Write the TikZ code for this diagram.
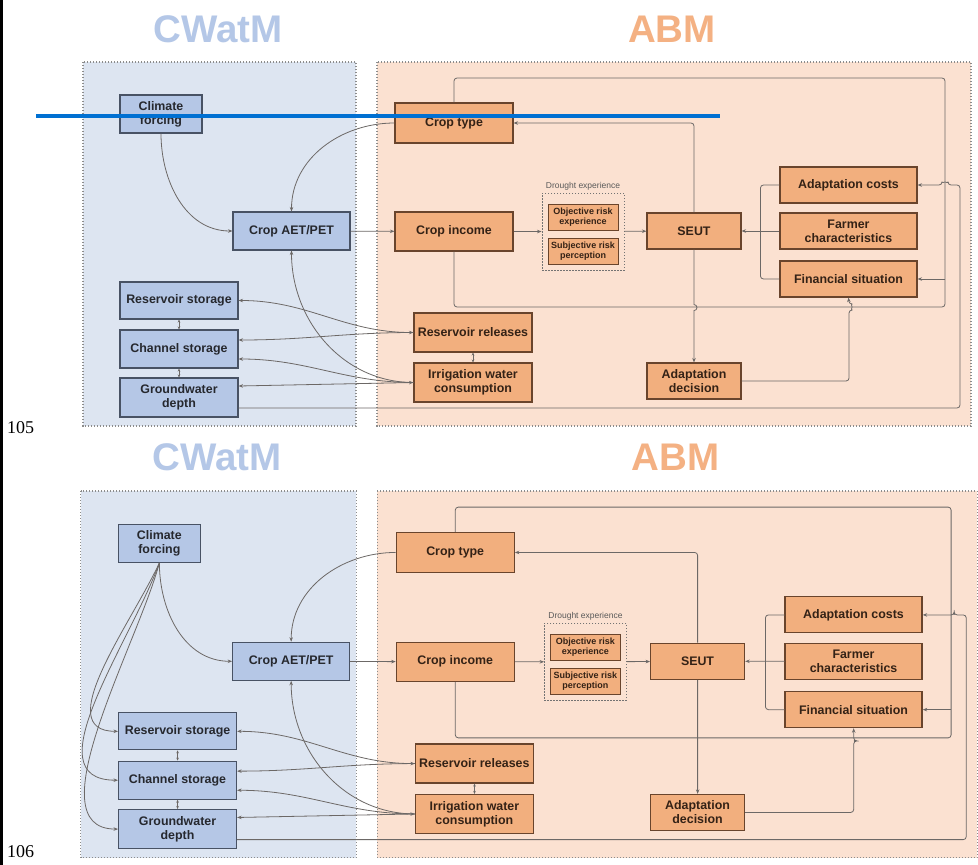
\documentclass[tikz,border=0pt]{standalone}
\usepackage{fontspec}
\setmainfont{Liberation Sans}
\newfontfamily\numfont{Liberation Serif}
\usetikzlibrary{arrows.meta}

\definecolor{cwfill}{RGB}{221,229,241}
\definecolor{cwboxfill}{RGB}{181,199,230}
\definecolor{cwtitle}{RGB}{180,199,231}
\definecolor{cwedge}{RGB}{72,82,100}
\definecolor{cwtext}{RGB}{38,40,46}
\definecolor{abfill}{RGB}{251,225,209}
\definecolor{abboxfill}{RGB}{242,175,126}
\definecolor{abtitle}{RGB}{244,177,131}
\definecolor{abedge}{RGB}{105,68,44}
\definecolor{abtext}{RGB}{52,34,22}
\definecolor{linkgray}{RGB}{108,104,102}
\definecolor{markblue}{RGB}{0,112,210}

\newcommand\cwboxfont{\fontsize{12.4}{14}\selectfont\bfseries}
\newcommand\riskfont{\fontsize{9}{10}\selectfont\bfseries}
\newcommand\dlfont{\fontsize{8.5}{9}\selectfont}

\tikzset{
  headline/.style={font=\fontsize{38.5}{40}\selectfont\bfseries,inner sep=0pt},
  panel/.style={draw=black!45,line width=1.1pt,dash pattern=on 1.2pt off 1.8pt},
  cwbox/.style={draw=cwedge,fill=cwboxfill,line width=1.1pt,text=cwtext,
    font=\cwboxfont,align=center,inner sep=1pt,minimum height=38pt},
  abbox/.style={draw=abedge,fill=abboxfill,line width=1.1pt,text=abtext,
    font=\cwboxfont,align=center,inner sep=1pt,minimum height=39pt},
  riskbox/.style={abbox,font=\riskfont,minimum width=70pt,minimum height=26pt,line width=0.9pt},
  groupbox/.style={draw=black!55,line width=0.9pt,dash pattern=on 1.5pt off 1.5pt},
  note/.style={font=\dlfont,text=black!65},
  link/.style={draw=linkgray,line width=0.8pt},
  arr/.style={link,->},
  darr/.style={link,<->},
  dbl/.style={link,{Stealth[length=3pt,width=2.6pt]}-{Stealth[length=3pt,width=2.6pt]}},
}

% one CWatM/ABM panel; #1 = radius of the line hops
\newcommand\drawpanel[1]{%
  \node[headline,text=cwtitle] (cwname) at (218,-29) {CWatM};
  \node[headline,text=abtitle] (abname) at (672,-29) {ABM};
  \draw[panel,fill=cwfill] (83,-62) rectangle (356,-426);
  \draw[panel,fill=abfill] (377,-62) rectangle (971,-426);
  % CWatM side
  \node[cwbox,minimum width=82pt] (clim) at (161,-114) {Climate\\forcing};
  \node[cwbox,minimum width=117pt] (aet) at (291.5,-231) {Crop AET/PET};
  \node[cwbox,minimum width=118pt,minimum height=37pt] (resst) at (179,-300.5) {Reservoir storage};
  \node[cwbox,minimum width=118pt] (chan) at (179,-349) {Channel storage};
  \node[cwbox,minimum width=118pt,minimum height=39pt] (gw) at (179,-397.5) {Groundwater\\depth};
  % ABM side
  \node[abbox,minimum width=118pt,minimum height=40pt] (ctype) at (454,-123) {Crop type};
  \node[abbox,minimum width=118pt] (cinc) at (454,-231.5) {Crop income};
  \node[abbox,minimum width=118pt] (rrel) at (473,-332.5) {Reservoir releases};
  \node[abbox,minimum width=118pt] (irr) at (473,-382.5) {Irrigation water\\consumption};
  \node[groupbox,minimum width=82pt,minimum height=77pt] (drought) at (583,-231.5) {};
  \node[note] (dlabel) at (583,-186) {Drought experience};
  \node[riskbox] (obj) at (583,-217) {Objective risk\\experience};
  \node[riskbox] (subj) at (583,-251) {Subjective risk\\perception};
  \node[abbox,minimum width=94pt,minimum height=36pt] (seut) at (694,-231) {SEUT};
  \node[abbox,minimum width=137pt,minimum height=36pt] (acost) at (848.5,-185) {Adaptation costs};
  \node[abbox,minimum width=137pt,minimum height=36pt] (farm) at (848.5,-231) {Farmer\\characteristics};
  \node[abbox,minimum width=137pt,minimum height=36pt] (fin) at (848.5,-279) {Financial situation};
  \node[abbox,minimum width=94pt,minimum height=36pt] (adec) at (694,-381) {Adaptation\\decision};
  % corners of the outer loops
  \coordinate (loopne) at (945,-78);
  \coordinate (loopse) at (945,-307);
  \coordinate (gwne) at (960,-185);
  % links
  \draw[arr] (clim.south) to[out=-90,in=180] (aet.west);
  \draw[arr] (ctype.west) to[out=180,in=90] (aet.north);
  \draw[arr] (aet) -- (cinc);
  \draw[arr] (cinc) -- (drought);
  \draw[arr] (drought) -- (seut);
  \draw[arr] (farm) -- (seut);
  \draw[link,rounded corners=3pt] (acost.west) -- ++(-19pt,0) |- (fin.west);
  \draw[arr,rounded corners=3pt] (seut.north) |- (ctype.east);
  \draw[arr] (seut.south) -- ++(0,-55pt) arc[start angle=90,end angle=-90,radius=#1] -- (adec.north);
  \draw[link,rounded corners=3pt] (cinc.south) |- (loopse) -- (loopne) -| (ctype.north);
  \draw[arr] (loopne |- fin.east) -- (fin.east);
  \draw[arr,rounded corners=3pt] (adec.east) -| ++(107.5pt,71pt) arc[start angle=-90,end angle=90,radius=#1] -- (fin.south);
  \draw[arr,rounded corners=3pt] ([yshift=-10.5pt]gw.east) -| (gwne) -- ++(-12pt,0) arc[start angle=0,end angle=180,radius=#1] -- (acost.east);
  \draw[dbl] (resst) -- (chan);
  \draw[dbl] (chan) -- (gw);
  \draw[dbl] (rrel) -- (irr);
  \draw[darr] (resst.east) to[out=0,in=180] (rrel.west);
  \draw[arr] (rrel.west) to[out=180,in=0] ([yshift=9pt]chan.east);
  \draw[arr] (irr.west) to[out=180,in=0] ([yshift=-10pt]chan.east);
  \draw[darr] ([yshift=11.5pt]gw.east) -- (irr.west);
  \draw[arr] (irr.west) to[out=180,in=-90] (aet.south);
}

\begin{document}
\begin{tikzpicture}[x=1pt,y=1pt,>={Stealth[length=4.5pt,width=3.5pt]}]
\useasboundingbox (0,0) rectangle (978,-865);
\fill[white] (0,0) rectangle (978,-865);
% page margin rule and line numbers
\draw[line width=3pt] (1.5,0) -- (1.5,-865);
\node[font=\numfont\fontsize{18}{18}\selectfont,inner sep=0pt] (ln105) at (20.5,-428) {105};
\node[font=\numfont\fontsize{18}{18}\selectfont,inner sep=0pt] (ln106) at (20.5,-852) {106};
% upper panel
\drawpanel{3pt}
% lower panel
\begin{scope}[xshift=-3.2pt,yshift=-428.5pt,xscale=1.0097,yscale=1.0075]
  \drawpanel{0.01pt}
  \draw[arr] (clim.south) to[out=-115,in=180] (resst.west);
  \draw[arr] (clim.south) to[out=-110,in=180] (chan.west);
  \draw[arr] (clim.south) to[out=-105,in=180,looseness=0.8] (gw.west);
\end{scope}
% blue marker line
\draw[markblue,line width=3.2pt] (36,-116) -- (720,-116);
\end{tikzpicture}
\end{document}
